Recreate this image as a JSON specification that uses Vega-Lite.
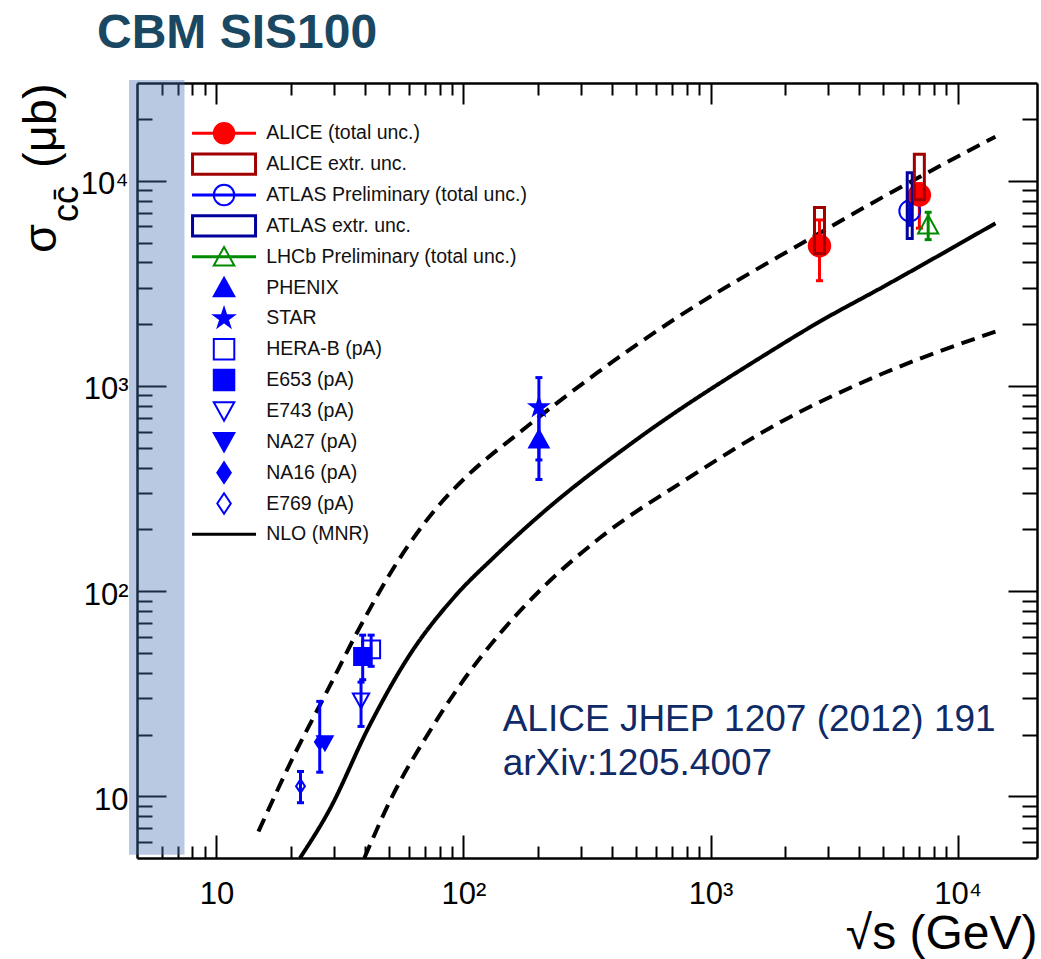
{
  "$schema": "https://vega.github.io/schema/vega-lite/v6.json",
  "width": 900,
  "height": 775,
  "autosize": "none",
  "padding": {"left": 137, "top": 83, "right": 4, "bottom": 101},
  "background": "white",
  "config": {"font": "Liberation Sans", "view": {"stroke": null}},
  "title": {
    "text": "CBM SIS100",
    "anchor": "start",
    "frame": "group",
    "orient": "top",
    "fontSize": 48,
    "fontWeight": "bold",
    "color": "#1a4862",
    "dx": -40,
    "dy": 48,
    "offset": 32,
    "baseline": "alphabetic"
  },
  "datasets": {
    "points": [
      {"series": "ATLAS Preliminary (total unc.)", "x": 6400, "y": 7130, "lo": 6070, "hi": 8350},
      {"series": "ALICE (total unc.)", "x": 2760, "y": 4830, "lo": 3260, "hi": 6450},
      {"series": "ALICE (total unc.)", "x": 7000, "y": 8530, "lo": 5880, "hi": 9700},
      {"series": "LHCb Preliminary (total unc.)", "x": 7600, "y": 6100, "lo": 5170, "hi": 7030},
      {"series": "PHENIX", "x": 202, "y": 550, "lo": 350, "hi": 790},
      {"series": "STAR", "x": 202, "y": 788, "lo": 436, "hi": 1099},
      {"series": "HERA-B (pA)", "x": 42.3, "y": 52, "lo": 43, "hi": 61},
      {"series": "E653 (pA)", "x": 39.1, "y": 48, "lo": 37, "hi": 61},
      {"series": "E743 (pA)", "x": 38.5, "y": 29.3, "lo": 21.9, "hi": 36},
      {"series": "NA16 (pA)", "x": 26.2, "y": 18.4, "lo": 13.1, "hi": 29},
      {"series": "NA27 (pA)", "x": 27.5, "y": 18.2, "lo": null, "hi": null},
      {"series": "E769 (pA)", "x": 21.9, "y": 11.2, "lo": 9.3, "hi": 13.2}
    ],
    "boxes": [
      {"series": "ALICE extr. unc.", "x": 2760, "lo": 4430, "hi": 7420},
      {"series": "ATLAS extr. unc.", "x": 6400, "lo": 5230, "hi": 10950},
      {"series": "ALICE extr. unc.", "x": 7000, "lo": 8100, "hi": 13500}
    ],
    "nlo": [
      {"curve": "upper", "x": 14.8, "y": 6.73},
      {"curve": "upper", "x": 20.5, "y": 15.6},
      {"curve": "upper", "x": 27.8, "y": 31.8},
      {"curve": "upper", "x": 37.9, "y": 66.0},
      {"curve": "upper", "x": 54.7, "y": 142},
      {"curve": "upper", "x": 76.7, "y": 249},
      {"curve": "upper", "x": 99.7, "y": 349},
      {"curve": "upper", "x": 170.6, "y": 600},
      {"curve": "upper", "x": 346, "y": 1154},
      {"curve": "upper", "x": 699, "y": 2080},
      {"curve": "upper", "x": 2470, "y": 5150},
      {"curve": "upper", "x": 5010, "y": 8370},
      {"curve": "upper", "x": 14220, "y": 16420},
      {"curve": "central", "x": 21.8, "y": 5.0},
      {"curve": "central", "x": 28.7, "y": 8.6},
      {"curve": "central", "x": 41.5, "y": 21.9},
      {"curve": "central", "x": 60.0, "y": 48.0},
      {"curve": "central", "x": 92.2, "y": 94.1},
      {"curve": "central", "x": 133.4, "y": 147},
      {"curve": "central", "x": 205, "y": 236},
      {"curve": "central", "x": 500, "y": 546},
      {"curve": "central", "x": 1708, "y": 1449},
      {"curve": "central", "x": 2708, "y": 2030},
      {"curve": "central", "x": 5010, "y": 3050},
      {"curve": "central", "x": 14220, "y": 6210},
      {"curve": "lower", "x": 39.7, "y": 5.0},
      {"curve": "lower", "x": 51.5, "y": 9.98},
      {"curve": "lower", "x": 72.2, "y": 20.3},
      {"curve": "lower", "x": 98.1, "y": 35.6},
      {"curve": "lower", "x": 141.9, "y": 63},
      {"curve": "lower", "x": 205, "y": 101.4},
      {"curve": "lower", "x": 357, "y": 182},
      {"curve": "lower", "x": 793, "y": 349},
      {"curve": "lower", "x": 1992, "y": 683},
      {"curve": "lower", "x": 5010, "y": 1154},
      {"curve": "lower", "x": 14220, "y": 1841}
    ],
    "legend": [
      {"series": "ALICE (total unc.)", "order": 1},
      {"series": "ALICE extr. unc.", "order": 2},
      {"series": "ATLAS Preliminary (total unc.)", "order": 3},
      {"series": "ATLAS extr. unc.", "order": 4},
      {"series": "LHCb Preliminary (total unc.)", "order": 5},
      {"series": "PHENIX", "order": 6},
      {"series": "STAR", "order": 7},
      {"series": "HERA-B (pA)", "order": 8},
      {"series": "E653 (pA)", "order": 9},
      {"series": "E743 (pA)", "order": 10},
      {"series": "NA27 (pA)", "order": 11},
      {"series": "NA16 (pA)", "order": 12},
      {"series": "E769 (pA)", "order": 13},
      {"series": "NLO (MNR)", "order": 14}
    ],
    "region": [
      {"name": "SIS100", "x_lo": 4.43, "x_hi": 7.43, "y_lo": 5.19, "y_hi": 31000}
    ],
    "notes": [
      {"line1": "ALICE JHEP 1207 (2012) 191", "line2": "arXiv:1205.4007", "x": 144.1, "y": 20.69}
    ],
    "ytitle": [
      {"part": "σ", "x": 2.243, "y": 4452, "big": true},
      {"part": "cc̄", "x": 2.747, "y": 6302, "big": false},
      {"part": "(μb)", "x": 2.243, "y": 11556, "big": true}
    ]
  },
  "layer": [
    {
      "resolve": {"axis": {"x": "independent", "y": "independent"}},
      "layer": [
        {
          "data": {"name": "nlo"},
          "mark": {"type": "line", "color": "black", "strokeWidth": 4, "clip": true, "strokeCap": "butt", "interpolate": "monotone"},
          "encoding": {
            "x": {
              "field": "x", "type": "quantitative",
              "scale": {"type": "log", "domain": [5, 20000], "nice": false},
              "axis": {
                "orient": "bottom",
                "values": [6,7,8,9,10,20,30,40,50,60,70,80,90,100,200,300,400,500,600,700,800,900,1000,2000,3000,4000,5000,6000,7000,8000,9000,10000],
                "labelExpr": "datum.value == 10 ? '10' : datum.value == 100 ? '10²' : datum.value == 1000 ? '10³' : datum.value == 10000 ? '10⁴' : ''",
                "labelFontSize": 31, "labelColor": "#000000", "labelPadding": 44,
                "labelBaseline": "top", "labelOverlap": false, "labelFlush": false, "labelBound": false,
                "tickSize": {"condition": {"test": "datum.value == 10 || datum.value == 100 || datum.value == 1000 || datum.value == 10000", "value": -23}, "value": -12},
                "tickWidth": 2, "tickColor": "#000000",
                "domainColor": "#000000", "domainWidth": 2.5, "grid": false,
                "title": "√s (GeV)", "titleFontSize": 48, "titleFontWeight": "normal", "titleColor": "#000000",
                "titleAnchor": "end", "titleAlign": "right", "titleBaseline": "alphabetic", "titleY": 90
              }
            },
            "y": {
              "field": "y", "type": "quantitative",
              "scale": {"type": "log", "domain": [5, 30000], "nice": false},
              "axis": {
                "orient": "left",
                "values": [6,7,8,9,10,20,30,40,50,60,70,80,90,100,200,300,400,500,600,700,800,900,1000,2000,3000,4000,5000,6000,7000,8000,9000,10000,20000],
                "labelExpr": "datum.value == 10 ? '10' : datum.value == 100 ? '10²' : datum.value == 1000 ? '10³' : datum.value == 10000 ? '10⁴' : ''",
                "labelFontSize": 31, "labelColor": "#000000", "labelPadding": 38, "labelOffset": 4,
                "labelAlign": "right", "labelBaseline": "middle", "labelOverlap": false, "labelFlush": false, "labelBound": false,
                "tickSize": {"condition": {"test": "datum.value == 10 || datum.value == 100 || datum.value == 1000 || datum.value == 10000", "value": -29}, "value": -15},
                "tickWidth": 2, "tickColor": "#000000",
                "domainColor": "#000000", "domainWidth": 2.5, "grid": false,
                "title": null
              }
            },
            "detail": {"field": "curve"},
            "strokeDash": {
              "field": "curve", "type": "nominal",
              "scale": {"domain": ["central", "upper", "lower"], "range": [[1, 0], [14, 8], [14, 8]]},
              "legend": null
            }
          }
        },
        {
          "data": {"name": "points"},
          "mark": {"type": "rule", "strokeWidth": 3},
          "encoding": {
            "x": {
              "field": "x", "type": "quantitative",
              "axis": {
                "orient": "top",
                "values": [6,7,8,9,10,20,30,40,50,60,70,80,90,100,200,300,400,500,600,700,800,900,1000,2000,3000,4000,5000,6000,7000,8000,9000,10000],
                "labels": false,
                "tickSize": {"condition": {"test": "datum.value == 10 || datum.value == 100 || datum.value == 1000 || datum.value == 10000", "value": -21}, "value": -12},
                "tickWidth": 2, "tickColor": "#000000",
                "domainColor": "#000000", "domainWidth": 2.5, "grid": false, "title": null
              }
            },
            "y": {
              "field": "lo", "type": "quantitative",
              "axis": {
                "orient": "right",
                "values": [6,7,8,9,10,20,30,40,50,60,70,80,90,100,200,300,400,500,600,700,800,900,1000,2000,3000,4000,5000,6000,7000,8000,9000,10000,20000],
                "labels": false,
                "tickSize": {"condition": {"test": "datum.value == 10 || datum.value == 100 || datum.value == 1000 || datum.value == 10000", "value": -29}, "value": -15},
                "tickWidth": 2, "tickColor": "#000000",
                "domainColor": "#000000", "domainWidth": 2.5, "grid": false, "title": null
              }
            },
            "y2": {"field": "hi"},
            "stroke": {"field": "series", "type": "nominal", "legend": null}
          }
        },
        {
          "data": {"name": "points"},
          "mark": {"type": "point", "shape": "M-1,0H1", "size": 49, "strokeWidth": 3, "opacity": 1, "fill": "transparent"},
          "encoding": {
            "x": {"field": "x", "type": "quantitative", "axis": null},
            "y": {"field": "lo", "type": "quantitative", "axis": null},
            "stroke": {"field": "series", "type": "nominal", "legend": null}
          }
        },
        {
          "data": {"name": "points"},
          "mark": {"type": "point", "shape": "M-1,0H1", "size": 49, "strokeWidth": 3, "opacity": 1, "fill": "transparent"},
          "encoding": {
            "x": {"field": "x", "type": "quantitative", "axis": null},
            "y": {"field": "hi", "type": "quantitative", "axis": null},
            "stroke": {"field": "series", "type": "nominal", "legend": null}
          }
        },
        {
          "data": {"name": "points"},
          "mark": {"type": "point", "opacity": 1, "strokeWidth": 2},
          "encoding": {
            "x": {"field": "x", "type": "quantitative", "axis": null},
            "y": {"field": "y", "type": "quantitative", "axis": null},
            "shape": {
              "field": "series", "type": "nominal", "legend": null,
              "scale": {
                "domain": ["ALICE (total unc.)", "ATLAS Preliminary (total unc.)", "LHCb Preliminary (total unc.)", "PHENIX", "STAR", "HERA-B (pA)", "E653 (pA)", "E743 (pA)", "NA27 (pA)", "NA16 (pA)", "E769 (pA)"],
                "range": ["circle", "circle", "M0,-0.95L1,0.85L-1,0.85Z", "M0,-0.95L1,0.85L-1,0.85Z", "M0,-1L0.2245,-0.309L0.951,-0.309L0.3633,0.118L0.588,0.809L0,0.382L-0.588,0.809L-0.3633,0.118L-0.951,-0.309L-0.2245,-0.309Z", "square", "square", "M0,0.95L1,-0.85L-1,-0.85Z", "M0,0.95L1,-0.85L-1,-0.85Z", "M0,-1L0.66,0L0,1L-0.66,0Z", "M0,-1L0.66,0L0,1L-0.66,0Z"]
              }
            },
            "fill": {
              "field": "series", "type": "nominal", "legend": null,
              "scale": {
                "domain": ["ALICE (total unc.)", "ATLAS Preliminary (total unc.)", "LHCb Preliminary (total unc.)", "PHENIX", "STAR", "HERA-B (pA)", "E653 (pA)", "E743 (pA)", "NA27 (pA)", "NA16 (pA)", "E769 (pA)"],
                "range": ["#ff0000", "transparent", "transparent", "#0000ff", "#0000ff", "transparent", "#0000ff", "transparent", "#0000ff", "#0000ff", "transparent"]
              }
            },
            "stroke": {
              "field": "series", "type": "nominal", "legend": null,
              "scale": {
                "domain": ["ALICE (total unc.)", "ATLAS Preliminary (total unc.)", "LHCb Preliminary (total unc.)", "PHENIX", "STAR", "HERA-B (pA)", "E653 (pA)", "E743 (pA)", "NA27 (pA)", "NA16 (pA)", "E769 (pA)", "ALICE extr. unc.", "ATLAS extr. unc.", "NLO (MNR)"],
                "range": ["#ff0000", "#0000ff", "#008a00", "#0000ff", "#0000ff", "#0000ff", "#0000ff", "#0000ff", "#0000ff", "#0000ff", "#0000ff", "#a00000", "#00009c", "#000000"]
              }
            },
            "size": {
              "field": "series", "type": "nominal", "legend": null,
              "scale": {
                "domain": ["ALICE (total unc.)", "ATLAS Preliminary (total unc.)", "LHCb Preliminary (total unc.)", "PHENIX", "STAR", "HERA-B (pA)", "E653 (pA)", "E743 (pA)", "NA27 (pA)", "NA16 (pA)", "E769 (pA)"],
                "range": [462, 182, 400, 462, 535, 441, 441, 484, 529, 700, 700]
              }
            }
          }
        },
        {
          "data": {"name": "boxes"},
          "mark": {"type": "bar", "orient": "vertical", "filled": false, "fill": "transparent", "strokeWidth": 3},
          "encoding": {
            "x": {"field": "x", "type": "quantitative", "axis": null},
            "y": {"field": "lo", "type": "quantitative", "axis": null},
            "y2": {"field": "hi"},
            "stroke": {"field": "series", "type": "nominal", "legend": null},
            "size": {"condition": {"test": "datum.series === 'ATLAS extr. unc.'", "value": 5}, "value": 10}
          }
        },
        {
          "data": {"name": "region"},
          "mark": {"type": "rect", "fill": "#4a72b4", "opacity": 0.38, "clip": false},
          "encoding": {
            "x": {"field": "x_lo", "type": "quantitative", "axis": null},
            "x2": {"field": "x_hi"},
            "y": {"field": "y_lo", "type": "quantitative", "axis": null},
            "y2": {"field": "y_hi"}
          }
        },
        {
          "data": {"name": "notes"},
          "mark": {"type": "text", "align": "left", "baseline": "alphabetic", "fontSize": 37, "color": "#0f2a66"},
          "encoding": {
            "x": {"field": "x", "type": "quantitative", "axis": null},
            "y": {"field": "y", "type": "quantitative", "axis": null},
            "text": {"field": "line1"}
          }
        },
        {
          "data": {"name": "notes"},
          "mark": {"type": "text", "align": "left", "baseline": "alphabetic", "fontSize": 37, "color": "#0f2a66", "dy": 43.5},
          "encoding": {
            "x": {"field": "x", "type": "quantitative", "axis": null},
            "y": {"field": "y", "type": "quantitative", "axis": null},
            "text": {"field": "line2"}
          }
        },
        {
          "data": {"name": "ytitle"},
          "mark": {"type": "text", "align": "left", "baseline": "alphabetic", "angle": 270, "color": "#000000"},
          "encoding": {
            "x": {"field": "x", "type": "quantitative", "axis": null},
            "y": {"field": "y", "type": "quantitative", "axis": null},
            "text": {"field": "part"},
            "size": {"condition": {"test": "datum.big", "value": 47}, "value": 36}
          }
        }
      ]
    },
    {
      "data": {"name": "legend"},
      "layer": [
        {
          "transform": [{"filter": {"field": "series", "oneOf": ["ALICE (total unc.)", "ATLAS Preliminary (total unc.)", "LHCb Preliminary (total unc.)", "NLO (MNR)"]}}],
          "mark": {"type": "point", "shape": "M-1,0H1", "size": 4096, "strokeWidth": 3, "opacity": 1, "fill": "transparent"},
          "encoding": {
            "x": {"datum": 10.74, "type": "quantitative", "axis": null},
            "y": {
              "field": "order", "type": "quantitative", "axis": null,
              "scale": {"domain": [-0.63, 24.49], "reverse": true, "nice": false, "zero": false}
            },
            "stroke": {"field": "series", "type": "nominal", "legend": null}
          }
        },
        {
          "transform": [{"filter": {"field": "series", "oneOf": ["ALICE extr. unc.", "ATLAS extr. unc."]}}],
          "mark": {"type": "point", "shape": "M-1,-0.32H1V0.32H-1Z", "size": 3969, "strokeWidth": 3, "opacity": 1, "fill": "transparent"},
          "encoding": {
            "x": {"datum": 10.74, "type": "quantitative", "axis": null},
            "y": {"field": "order", "type": "quantitative", "axis": null},
            "stroke": {"field": "series", "type": "nominal", "legend": null}
          }
        },
        {
          "transform": [{"filter": {"field": "series", "oneOf": ["ALICE (total unc.)", "ATLAS Preliminary (total unc.)", "LHCb Preliminary (total unc.)", "PHENIX", "STAR", "HERA-B (pA)", "E653 (pA)", "E743 (pA)", "NA27 (pA)", "NA16 (pA)", "E769 (pA)"]}}],
          "mark": {"type": "point", "opacity": 1, "strokeWidth": 2},
          "encoding": {
            "x": {"datum": 10.74, "type": "quantitative", "axis": null},
            "y": {"field": "order", "type": "quantitative", "axis": null},
            "shape": {"field": "series", "type": "nominal", "legend": null},
            "fill": {"field": "series", "type": "nominal", "legend": null},
            "stroke": {"field": "series", "type": "nominal", "legend": null},
            "size": {
              "field": "series", "type": "nominal", "legend": null,
              "scale": {
                "domain": ["ALICE (total unc.)", "ATLAS Preliminary (total unc.)", "LHCb Preliminary (total unc.)", "PHENIX", "STAR", "HERA-B (pA)", "E653 (pA)", "E743 (pA)", "NA27 (pA)", "NA16 (pA)", "E769 (pA)"],
                "range": [420, 420, 380, 484, 560, 462, 462, 500, 500, 529, 529]
              }
            }
          }
        },
        {
          "mark": {"type": "text", "align": "left", "baseline": "middle", "fontSize": 19.5, "color": "#111111"},
          "encoding": {
            "x": {"datum": 15.9, "type": "quantitative", "axis": null},
            "y": {"field": "order", "type": "quantitative", "axis": null},
            "text": {"field": "series"}
          }
        }
      ]
    }
  ],
  "resolve": {"scale": {"y": "independent", "size": "independent"}}
}
